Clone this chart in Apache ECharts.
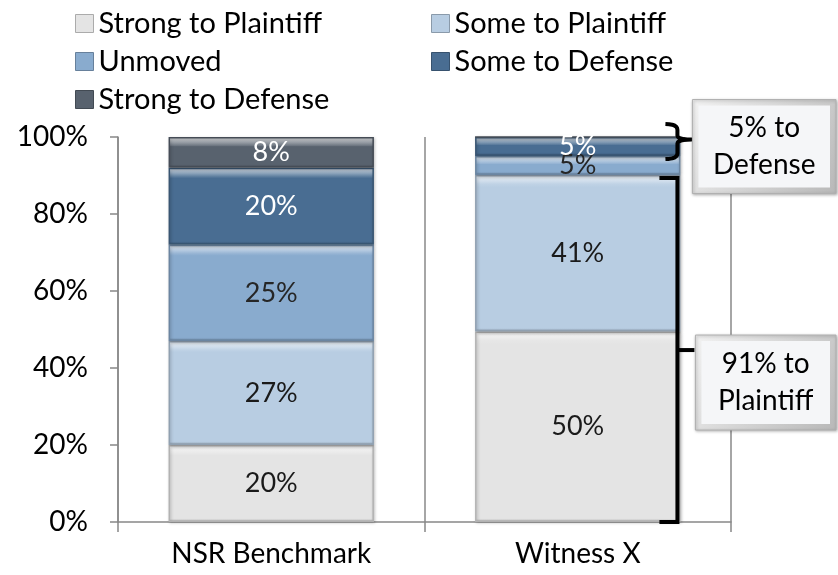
<!DOCTYPE html>
<html>
<head>
<meta charset="utf-8">
<script src="https://cdn.jsdelivr.net/npm/echarts@6/dist/echarts.min.js"></script>
<style>
html,body{margin:0;padding:0;background:#fff;}
#main{width:838px;height:575px;}
</style>
</head>
<body>
<div id="main"></div>
<script>
const categories = ['NSR Benchmark', 'Witness X'];
const seriesNames = ['Strong to Plaintiff', 'Some to Plaintiff', 'Unmoved', 'Some to Defense', 'Strong to Defense'];
const strongPlaintiff = [20, 50];
const somePlaintiff = [27, 41];
const unmoved = [25, 5];
const someDefense = [20, 5];
const strongDefense = [8, 0];
const yTicks = [0, 20, 40, 60, 80, 100];
const calloutDefense = '5% to\nDefense';
const calloutPlaintiff = '91% to\nPlaintiff';

const raw = [strongPlaintiff, somePlaintiff, unmoved, someDefense, strongDefense];
const colors = ['#e4e4e4', '#b8cde2', '#89abce', '#496d92', '#58626e'];
const labelColors = ['#1a1a1a', '#1a1a1a', '#262626', '#ffffff', '#ffffff'];
const FONT = 'Lato, "Noto Sans", sans-serif';
const FS = 28;

// 100% stacked: normalize each category by its total (as the source chart does)
const totals = categories.map((c, i) => raw.reduce((s, arr) => s + arr[i], 0));
const norm = raw.map(arr => arr.map((v, ci) => v / totals[ci] * 100));

function shade(hex, amt) {
  const n = parseInt(hex.slice(1), 16);
  let r = (n >> 16) & 255, g = (n >> 8) & 255, b = n & 255;
  const f = v => Math.max(0, Math.min(255, Math.round(amt >= 0 ? v + (255 - v) * amt : v * (1 + amt))));
  return 'rgb(' + f(r) + ',' + f(g) + ',' + f(b) + ')';
}

function buildSeries(pxPerUnit) {
  return raw.map((arr, si) => ({
    name: seriesNames[si],
    type: 'bar',
    stack: 'total',
    barCategoryGap: '33%',
    data: arr.map((v, ci) => {
      const item = { value: norm[si][ci], raw: v };
      if (pxPerUnit) {
        const h = Math.max(1, norm[si][ci] * pxPerUnit);
        const t = Math.min(0.4, 9 / h);
        const b = Math.min(0.3, 3 / h);
        item.itemStyle = {
          color: {
            type: 'linear', x: 0, y: 0, x2: 0, y2: 1,
            colorStops: [
              { offset: 0, color: shade(colors[si], 0.8) },
              { offset: t, color: shade(colors[si], 0.1) },
              { offset: Math.min(1, t + 0.02), color: colors[si] },
              { offset: 1 - b, color: colors[si] },
              { offset: 1, color: shade(colors[si], -0.25) }
            ]
          }
        };
      }
      return item;
    }),
    itemStyle: {
      color: colors[si],
      borderColor: shade(colors[si], -0.22),
      borderWidth: 1.5,
      shadowColor: 'rgba(0,0,0,0.25)',
      shadowBlur: 3,
      shadowOffsetX: 1,
      shadowOffsetY: 1
    },
    label: {
      show: true,
      position: 'inside',
      fontFamily: FONT,
      fontSize: 27,
      color: labelColors[si],
      formatter: p => (p.data.raw > 0 ? p.data.raw + '%' : '')
    }
  }));
}

const legendItem = i => ({ name: seriesNames[i], itemStyle: { color: colors[i], borderColor: shade(colors[i], -0.25), borderWidth: 1 } });
const legendText = { fontFamily: FONT, fontSize: 29, color: '#000' };
const chart = echarts.init(document.getElementById('main'), null, { renderer: 'canvas' });
chart.setOption({
  animation: false,
  backgroundColor: '#ffffff',
  legend: [
    {
      data: [legendItem(0), legendItem(2), legendItem(4)],
      orient: 'vertical', left: 70, top: 4, itemGap: 9,
      itemWidth: 18, itemHeight: 18, icon: 'rect', textStyle: legendText
    },
    {
      data: [legendItem(1), legendItem(3)],
      orient: 'vertical', left: 426, top: 4, itemGap: 9,
      itemWidth: 18, itemHeight: 18, icon: 'rect', textStyle: legendText
    }
  ],
  grid: { left: 118, right: 107, top: 137, bottom: 53, containLabel: false },
  xAxis: {
    type: 'category',
    data: categories,
    axisLine: { lineStyle: { color: '#888888', width: 1.5 } },
    axisTick: { show: true, length: 10, lineStyle: { color: '#888888', width: 1.5 } },
    splitLine: { show: true, lineStyle: { color: '#888888', width: 1.5 } },
    axisLabel: { fontFamily: FONT, fontSize: FS, color: '#000', margin: 18 }
  },
  yAxis: {
    type: 'value',
    min: yTicks[0], max: yTicks[yTicks.length - 1], interval: yTicks[1] - yTicks[0],
    axisLine: { show: true, lineStyle: { color: '#888888', width: 1.5 } },
    axisTick: { show: true, length: 8, lineStyle: { color: '#888888', width: 1.5 } },
    splitLine: { show: false },
    axisLabel: { fontFamily: FONT, fontSize: FS, color: '#000', margin: 30, formatter: v => v + '%' }
  },
  series: buildSeries(0)
});

const yPx = v => chart.convertToPixel({ yAxisIndex: 0 }, v);
const pxPerUnit = (yPx(0) - yPx(100)) / 100;
chart.setOption({ series: buildSeries(pxPerUnit) });

// Annotation brackets & callouts, positioned from the chart's own scales
const ci = 1;
const c0 = chart.convertToPixel({ xAxisIndex: 0 }, categories[0]);
const c1 = chart.convertToPixel({ xAxisIndex: 0 }, categories[1]);
const band = c1 - c0;
const barRight = c1 + band * 0.67 / 2;
const plaintiffTop = norm[0][ci] + norm[1][ci];
const defenseBottom = norm[0][ci] + norm[1][ci] + norm[2][ci];

const pTop = yPx(plaintiffTop) + 3, pBot = yPx(0), pMid = (pTop + pBot) / 2;
const bx = barRight - 3;
const dTop = yPx(100) - 13, dBot = yPx(defenseBottom) + 3, dMid = (dTop + dBot) / 2 - 2;

// curly brace "}" as sampled quadratic curves
function quad(p0, p1, p2, n) {
  const pts = [];
  for (let i = 0; i <= n; i++) {
    const t = i / n, u = 1 - t;
    pts.push([u * u * p0[0] + 2 * u * t * p1[0] + t * t * p2[0], u * u * p0[1] + 2 * u * t * p1[1] + t * t * p2[1]]);
  }
  return pts;
}
const bracePts = [].concat(
  quad([bx - 12, dTop], [bx, dTop], [bx, dTop + 6], 6),
  quad([bx, dMid - 4], [bx, dMid], [bx + 14, dMid], 6),
  quad([bx + 14, dMid], [bx, dMid], [bx, dMid + 4], 6),
  quad([bx, dBot - 6], [bx, dBot], [bx - 12, dBot], 6)
);

function calloutBox(x, y, w, h, text) {
  return [
    {
      type: 'rect', shape: { x: x, y: y, width: w, height: h },
      style: {
        fill: {
          type: 'linear', x: 0, y: 0, x2: 1, y2: 1,
          colorStops: [{ offset: 0, color: '#f2f2f2' }, { offset: 1, color: '#b8b8b8' }]
        },
        stroke: '#b0b0b0', lineWidth: 1,
        shadowColor: 'rgba(0,0,0,0.3)', shadowBlur: 3, shadowOffsetX: 1, shadowOffsetY: 1
      }, z: 20
    },
    {
      type: 'rect', shape: { x: x + 6, y: y + 6, width: w - 12, height: h - 12 },
      style: { fill: '#f5f6f8' }, z: 21
    },
    {
      type: 'text', x: x + w / 2, y: y + h / 2, z: 22,
      style: { text: text, fontFamily: FONT, fontSize: FS, fill: '#000', align: 'center', verticalAlign: 'middle', lineHeight: 37 }
    }
  ];
}

const graphics = [
  {
    type: 'polyline', z: 15,
    shape: { points: [[bx - 18, pTop], [bx, pTop], [bx, pBot], [bx - 18, pBot]] },
    style: { stroke: '#000', lineWidth: 4, fill: null }
  },
  {
    type: 'line', z: 15,
    shape: { x1: bx, y1: pMid, x2: bx + 17, y2: pMid },
    style: { stroke: '#000', lineWidth: 4 }
  },
  {
    type: 'polyline', z: 15,
    shape: { points: bracePts },
    style: { stroke: '#000', lineWidth: 4, fill: null, lineJoin: 'round' }
  }
].concat(
  calloutBox(bx + 15, dMid - 40, 836 - (bx + 15), 94, calloutDefense),
  calloutBox(bx + 18, pMid - 15, 836 - (bx + 18), 95, calloutPlaintiff)
);
chart.setOption({ graphic: graphics });
</script>
</body>
</html>
